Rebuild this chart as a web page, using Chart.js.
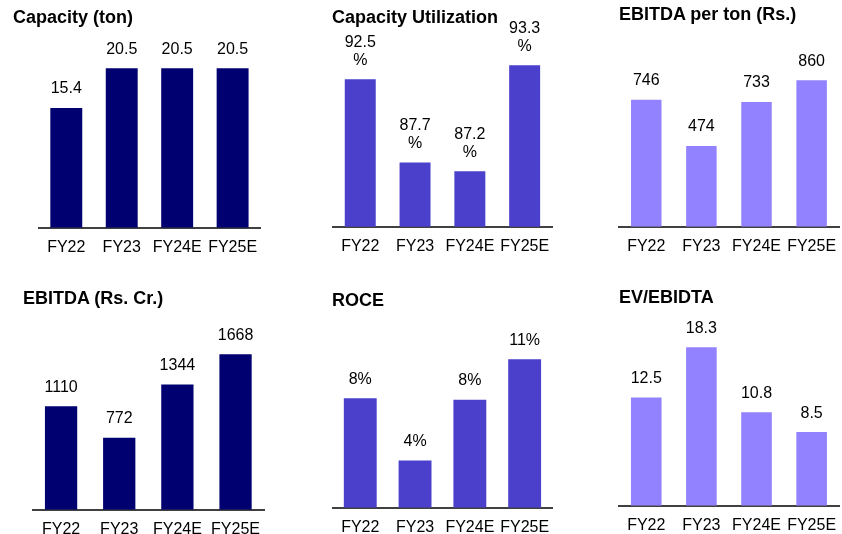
<!DOCTYPE html>
<html>
<head>
<meta charset="utf-8">
<script src="https://cdn.jsdelivr.net/npm/chart.js@4/dist/chart.umd.min.js"></script>
<style>
  html, body { margin: 0; padding: 0; background: #fff; }
  body { width: 842px; height: 534px; position: relative; overflow: hidden; font-family: "Liberation Sans", Arial, sans-serif; }
  .panel { position: absolute; }
  .title { position: absolute; font-weight: bold; font-size: 18px; color: #000; white-space: nowrap; z-index: 2; }
</style>
</head>
<body>

<script>
// ---- data ----
const years = ['FY22', 'FY23', 'FY24E', 'FY25E'];
const capacity = [15.4, 20.5, 20.5, 20.5];
const capacityUtil = [92.5, 87.7, 87.2, 93.3];
const ebitdaPerTon = [746, 474, 733, 860];
const ebitda = [1110, 772, 1344, 1668];
const roce = [8.1, 3.5, 8.0, 11.0];
const evEbitda = [12.5, 18.3, 10.8, 8.5];

const NAVY = '#000070';
const MID = '#4a40cc';
const LIGHT = '#9282ff';

// ---- value labels drawn above each bar ----
const barLabels = {
  id: 'barLabels',
  afterDatasetsDraw(chart, args, opts) {
    const ctx = chart.ctx;
    const meta = chart.getDatasetMeta(0);
    const data = chart.data.datasets[0].data;
    ctx.save();
    ctx.font = '16px "Liberation Sans", Arial, sans-serif';
    ctx.fillStyle = '#000';
    ctx.textAlign = 'center';
    ctx.textBaseline = 'middle';
    meta.data.forEach((bar, i) => {
      const lines = opts.format(data[i]);
      lines.forEach((t, k) => {
        const y = bar.y - 19 - (lines.length - 1 - k) * 18;
        ctx.fillText(t, bar.x, y);
      });
    });
    ctx.restore();
  }
};

function makePanel(p) {
  const box = document.createElement('div');
  box.className = 'panel';
  box.style.left = p.left + 'px';
  box.style.top = p.top + 'px';
  box.style.width = p.width + 'px';
  box.style.height = (p.height + 40) + 'px';
  const canvas = document.createElement('canvas');
  box.appendChild(canvas);
  document.body.appendChild(box);

  const title = document.createElement('div');
  title.className = 'title';
  title.style.left = p.titleX + 'px';
  title.style.top = p.titleY + 'px';
  title.textContent = p.title;
  document.body.appendChild(title);

  new Chart(canvas, {
    type: 'bar',
    data: {
      labels: years,
      datasets: [{
        data: p.values,
        backgroundColor: p.color,
        borderWidth: 0,
        categoryPercentage: 1,
        barPercentage: p.barPct
      }]
    },
    options: {
      responsive: true,
      maintainAspectRatio: false,
      animation: false,
      layout: { padding: 0 },
      plugins: {
        legend: { display: false },
        tooltip: { enabled: false },
        barLabels: { format: p.format }
      },
      scales: {
        x: {
          grid: { display: false, drawTicks: false },
          border: { display: true, color: '#404040', width: 2 },
          ticks: {
            color: '#000',
            padding: 10,
            font: { family: '"Liberation Sans", Arial, sans-serif', size: 16 }
          }
        },
        y: { display: false, min: p.min, max: p.max }
      }
    },
    plugins: [barLabels]
  });
}

const oneDec = v => [v.toFixed(1)];
const whole = v => [String(v)];

makePanel({ title: 'Capacity (ton)', titleX: 13, titleY: 7, values: capacity, color: NAVY,
  left: 38, top: 0, width: 229, height: 227, min: 0, max: 29.27, barPct: 0.576, format: oneDec });
makePanel({ title: 'Capacity Utilization', titleX: 332, titleY: 7, values: capacityUtil, color: MID,
  left: 332, top: 0, width: 227, height: 226, min: 84, max: 97.06, barPct: 0.565, format: v => [v.toFixed(1), '%'] });
makePanel({ title: 'EBITDA per ton (Rs.)', titleX: 619, titleY: 4, values: ebitdaPerTon, color: LIGHT,
  left: 618, top: 0, width: 228, height: 226, min: 0, max: 1331, barPct: 0.553, format: whole });
makePanel({ title: 'EBITDA (Rs. Cr.)', titleX: 23, titleY: 288, values: ebitda, color: NAVY,
  left: 32, top: 270, width: 238, height: 239, min: 0, max: 2572, barPct: 0.555, format: whole });
makePanel({ title: 'ROCE', titleX: 332, titleY: 290, values: roce, color: MID,
  left: 332, top: 270, width: 227, height: 237, min: 0, max: 17.6, barPct: 0.6, format: v => [Math.round(v) + '%'] });
makePanel({ title: 'EV/EBIDTA', titleX: 619, titleY: 287, values: evEbitda, color: LIGHT,
  left: 618, top: 270, width: 228, height: 235, min: 0, max: 27.2, barPct: 0.555, format: oneDec });
</script>
</body>
</html>
